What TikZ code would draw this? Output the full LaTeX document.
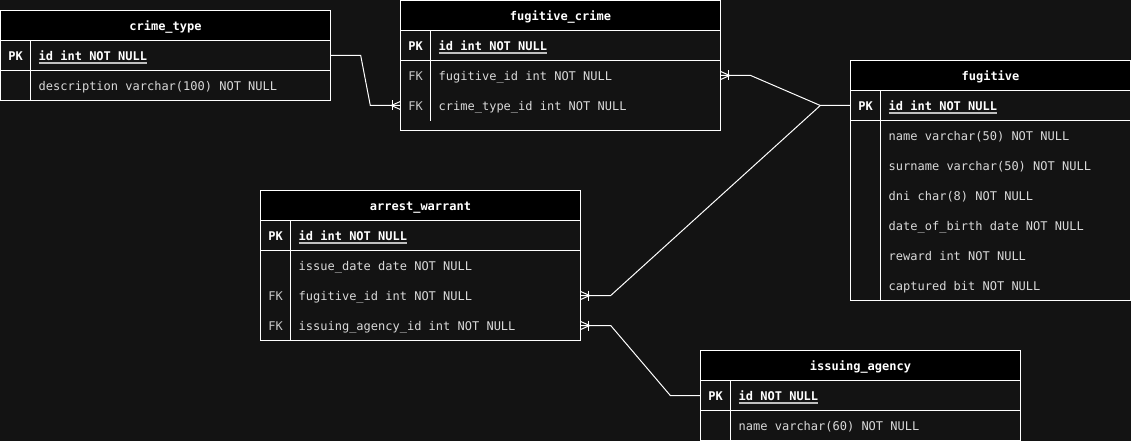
\documentclass[tikz,border=0pt]{standalone}
\usepackage{fontspec}
\setmonofont{DejaVu Sans Mono}
\usetikzlibrary{calc}
\definecolor{bgc}{HTML}{131313}
\definecolor{fldc}{HTML}{DADADA}
\definecolor{fkc}{HTML}{C8C8C8}
\newcommand\erfont{\ttfamily\fontsize{12}{14}\selectfont}
\tikzset{
  tline/.style={draw=white, line width=1pt},
  conn/.style={draw=white, line width=1pt},
  uline/.style={draw=white!75!black, line width=1.4pt},
  hdr/.style={inner sep=0pt, text=white, font={\erfont\bfseries}},
  rowcell/.style={inner sep=0pt, minimum height=30pt, draw=none},
  pkkey/.style={inner sep=0pt, text=white, font={\erfont\bfseries}},
  fkkey/.style={inner sep=0pt, text=fkc, font={\erfont}},
  pktext/.style={inner sep=0pt, text=white, font={\erfont\bfseries}},
  fldtext/.style={inner sep=0pt, text=fldc, font={\erfont}},
  crowE/.pic={\draw[conn] (0,-4) -- (9,0) -- (0,4); \draw[conn] (8,-5) -- (8,5);},
  crowW/.pic={\draw[conn] (0,-4) -- (-9,0) -- (0,4); \draw[conn] (-8,-5) -- (-8,5);}
}
% table frame: name x top width bottom title
\newcommand\ertab[6]{%
  \fill[black] (#2,#3) rectangle (#2+#4,#3+30);
  \node[hdr, anchor=base] (#1) at (#2+#4/2,#3+20) {#6};
  \draw[tline] (#2,#3) rectangle (#2+#4,#5);
  \draw[tline] (#2,#3+30) -- (#2+#4,#3+30);
}
% primary key row: name x yc width text
\newcommand\erpk[5]{%
  \node[rowcell, minimum width=#4] (#1) at (#2+#4/2,#3) {};
  \node[pkkey, anchor=base] (#1-k) at (#2+15,#3+5) {PK};
  \node[pktext, anchor=base west] (#1-t) at (#2+38,#3+5) {#5};
  \draw[uline] ($(#1-t.base west)+(0,2.5)$) -- ($(#1-t.base east)+(0,2.5)$);
  \draw[tline] (#2,#3+15) -- (#2+#4,#3+15);
}
% field row: name x yc width key text
\newcommand\erfld[6]{%
  \node[rowcell, minimum width=#4] (#1) at (#2+#4/2,#3) {};
  \node[fkkey, anchor=base] (#1-k) at (#2+15,#3+5) {#5};
  \node[fldtext, anchor=base west] (#1-t) at (#2+38,#3+5) {#6};
}
\begin{document}
\begin{tikzpicture}[x=1pt,y=-1pt]
\fill[bgc] (0,0) rectangle (1131,441);
\useasboundingbox (0,0) rectangle (1131,441);

% crime_type
\ertab{ct}{0.5}{10.5}{330}{100.5}{crime\_type}
\erpk{ct-id}{0.5}{55.5}{330}{id int NOT NULL}
\erfld{ct-desc}{0.5}{85.5}{330}{}{description varchar(100) NOT NULL}
\draw[tline] (30.5,40.5) -- (30.5,100.5);

% fugitive_crime
\ertab{fc}{400.5}{0.5}{320}{130.5}{fugitive\_crime}
\erpk{fc-id}{400.5}{45.5}{320}{id int NOT NULL}
\erfld{fc-fid}{400.5}{75.5}{320}{FK}{fugitive\_id int NOT NULL}
\erfld{fc-ctid}{400.5}{105.5}{320}{FK}{crime\_type\_id int NOT NULL}
\draw[tline] (430.5,30.5) -- (430.5,120.5);

% fugitive
\ertab{fg}{850.5}{60.5}{280}{300.5}{fugitive}
\erpk{fg-id}{850.5}{105.5}{280}{id int NOT NULL}
\erfld{fg-name}{850.5}{135.5}{280}{}{name varchar(50) NOT NULL}
\erfld{fg-surname}{850.5}{165.5}{280}{}{surname varchar(50) NOT NULL}
\erfld{fg-dni}{850.5}{195.5}{280}{}{dni char(8) NOT NULL}
\erfld{fg-dob}{850.5}{225.5}{280}{}{date\_of\_birth date NOT NULL}
\erfld{fg-reward}{850.5}{255.5}{280}{}{reward int NOT NULL}
\erfld{fg-capt}{850.5}{285.5}{280}{}{captured bit NOT NULL}
\draw[tline] (880.5,90.5) -- (880.5,300.5);

% arrest_warrant
\ertab{aw}{260.5}{190.5}{320}{340.5}{arrest\_warrant}
\erpk{aw-id}{260.5}{235.5}{320}{id int NOT NULL}
\erfld{aw-date}{260.5}{265.5}{320}{}{issue\_date date NOT NULL}
\erfld{aw-fid}{260.5}{295.5}{320}{FK}{fugitive\_id int NOT NULL}
\erfld{aw-iaid}{260.5}{325.5}{320}{FK}{issuing\_agency\_id int NOT NULL}
\draw[tline] (290.5,220.5) -- (290.5,340.5);

% issuing_agency
\ertab{ia}{700.5}{350.5}{320}{440.5}{issuing\_agency}
\erpk{ia-id}{700.5}{395.5}{320}{id NOT NULL}
\erfld{ia-name}{700.5}{425.5}{320}{}{name varchar(60) NOT NULL}
\draw[tline] (730.5,380.5) -- (730.5,440.5);

% connectors
\coordinate (junc) at ($(fg-id.west)+(-30,0)$);
\draw[conn] (ct-id.east) -- ++(30,0) -- ($(fc-ctid.west)+(-30,0)$) -- (fc-ctid.west);
\path (fc-ctid.west) pic{crowW};
\draw[conn] (fc-fid.east) -- ++(30,0) -- (junc) -- (fg-id.west);
\path (fc-fid.east) pic{crowE};
\draw[conn] (aw-fid.east) -- ++(30,0) -- (junc);
\path (aw-fid.east) pic{crowE};
\draw[conn] (aw-iaid.east) -- ++(30,0) -- ($(ia-id.west)+(-30,0)$) -- (ia-id.west);
\path (aw-iaid.east) pic{crowE};
\end{tikzpicture}
\end{document}
